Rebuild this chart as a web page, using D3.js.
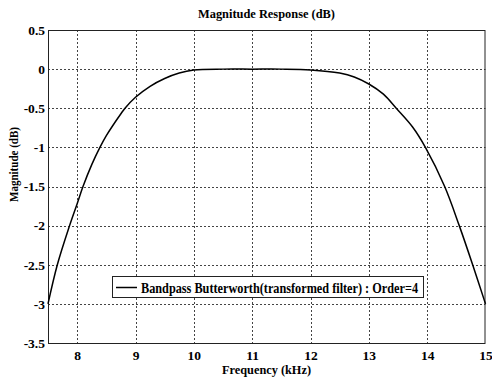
<!DOCTYPE html>
<html>
<head>
<meta charset="utf-8">
<script src="https://cdn.jsdelivr.net/npm/d3@7"></script>
<style>
  body { margin: 0; background: #fff; }
  svg text { font-family: "Liberation Serif", "Times New Roman", serif; font-weight: bold; fill: #000; }
</style>
</head>
<body>
<svg id="chart" width="492" height="383"></svg>
<script>
// values (kHz, dB)
const freq = [7.5, 7.66, 7.87, 8.0, 8.1, 8.25, 8.39, 8.5, 8.75, 8.82, 9.0, 9.25, 9.5, 9.75, 10.0,
              10.5, 11.0, 11.5, 12.0, 12.5, 12.75, 13.0, 13.25, 13.47, 13.75, 13.97, 14.3, 14.55, 14.78, 15.0];
const magDb = [-3.0, -2.5, -2.0, -1.72, -1.5, -1.22, -1.0, -0.85, -0.57, -0.5, -0.36, -0.22, -0.12, -0.05, -0.012,
               0, 0, 0, -0.01, -0.05, -0.1, -0.19, -0.32, -0.5, -0.74, -1.0, -1.5, -2.0, -2.5, -3.0];
const xTicks = [8, 9, 10, 11, 12, 13, 14, 15];
const yTicks = [0.5, 0, -0.5, -1, -1.5, -2, -2.5, -3, -3.5];
const legendLabel = "Bandpass Butterworth(transformed filter) : Order=4";
const font = "Liberation Serif";

const svg = d3.select("#chart");
const mLeft = 48, mRight = 485.5, mTop = 30, mBottom = 343;

const x = d3.scaleLinear().domain([7.5, 15]).range([mLeft, mRight]);
const y = d3.scaleLinear().domain([-3.5, 0.5]).range([mBottom, mTop]);

// grid
const grid = svg.append("g")
    .attr("stroke", "#444")
    .attr("stroke-width", 1)
    .attr("stroke-dasharray", "2,2");
grid.selectAll("line.gx")
    .data(xTicks.filter(d => d < 15))
    .join("line")
    .attr("x1", d => Math.round(x(d)) + 0.5)
    .attr("x2", d => Math.round(x(d)) + 0.5)
    .attr("y1", mTop)
    .attr("y2", mBottom);
grid.selectAll("line.gy")
    .data(yTicks.filter(d => d > -3.5 && d < 0.5))
    .join("line")
    .attr("x1", mLeft)
    .attr("x2", mRight)
    .attr("y1", d => Math.round(y(d)) + 0.5)
    .attr("y2", d => Math.round(y(d)) + 0.5);

// axes
const xAxis = d3.axisBottom(x).tickValues(xTicks).tickSize(0).tickPadding(7).tickFormat(d3.format("d"));
const yAxis = d3.axisLeft(y).tickValues(yTicks).tickSize(0).tickPadding(3).tickFormat(d => d === 0 ? "0" : d);

svg.append("g")
    .attr("transform", `translate(0,${mBottom})`)
    .attr("font-family", font)
    .call(xAxis)
    .call(g => g.select(".domain").remove())
    .selectAll("text")
    .attr("font-size", 13.5)
    .attr("font-family", font)
    .attr("font-weight", "bold");

svg.append("g")
    .attr("transform", `translate(${mLeft},0)`)
    .attr("font-family", font)
    .call(yAxis)
    .call(g => g.select(".domain").remove())
    .selectAll("text")
    .attr("font-size", 13.5)
    .attr("font-family", font)
    .attr("font-weight", "bold");

// box
svg.append("rect")
    .attr("x", mLeft + 0.5)
    .attr("y", mTop + 0.5)
    .attr("width", mRight - mLeft - 1)
    .attr("height", mBottom - mTop)
    .attr("fill", "none")
    .attr("stroke", "#222")
    .attr("stroke-width", 1);

// curve
const line = d3.line()
    .x((d, i) => x(freq[i]))
    .y(d => y(d))
    .curve(d3.curveCatmullRom.alpha(0.5));

svg.append("path")
    .datum(magDb)
    .attr("d", line)
    .attr("fill", "none")
    .attr("stroke", "#000")
    .attr("stroke-width", 1.5);

// legend
const lg = svg.append("g");
lg.append("rect")
    .attr("x", 112.5).attr("y", 276.5)
    .attr("width", 311).attr("height", 21)
    .attr("fill", "#fff").attr("stroke", "#222");
lg.append("line")
    .attr("x1", 116).attr("x2", 137)
    .attr("y1", 287.5).attr("y2", 287.5)
    .attr("stroke", "#000").attr("stroke-width", 1.5);
lg.append("text")
    .attr("x", 141).attr("y", 292.5)
    .attr("font-family", font)
    .attr("font-size", 14)
    .attr("textLength", 277)
    .attr("lengthAdjust", "spacingAndGlyphs")
    .text(legendLabel);

// titles
svg.append("text")
    .attr("x", 198).attr("y", 18)
    .attr("font-family", font)
    .attr("font-size", 13)
    .attr("textLength", 137)
    .attr("lengthAdjust", "spacingAndGlyphs")
    .text("Magnitude Response (dB)");

svg.append("text")
    .attr("x", 222).attr("y", 374)
    .attr("font-family", font)
    .attr("font-size", 13)
    .attr("textLength", 89)
    .attr("lengthAdjust", "spacingAndGlyphs")
    .text("Frequency (kHz)");

svg.append("text")
    .attr("transform", "translate(18,202) rotate(-90)")
    .attr("font-family", font)
    .attr("font-size", 13)
    .attr("textLength", 75)
    .attr("lengthAdjust", "spacingAndGlyphs")
    .text("Magnitude (dB)");
</script>
</body>
</html>
